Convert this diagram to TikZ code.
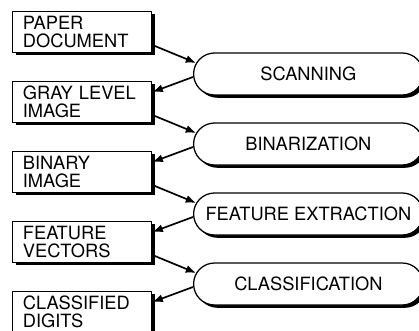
\documentclass[tikz,border=0pt]{standalone}
\usepackage{fontspec}
\setmainfont{TeX Gyre Heros}
\usepackage{tikz}
\usetikzlibrary{arrows.meta, positioning, shapes.misc, shadows}

\begin{document}
\begin{tikzpicture}[
    >=Latex,
    font=\fontsize{13}{12.8}\selectfont,
    heavyshadow/.style={drop shadow={shadow xshift=0.07cm, shadow yshift=-0.07cm, fill=black, opacity=1}},
    databox/.style={draw, line width=0.8pt, fill=white, heavyshadow, align=left, inner xsep=0.25cm, minimum width=3.475cm, minimum height=1cm, text width=2.975cm},
    stepround/.style={draw, rounded rectangle, line width=0.9pt, fill=white, heavyshadow, align=center, minimum width=5.975cm, minimum height=1.05cm},
    flowarrow/.style={-{Latex[length=2.6mm, width=2mm]}, line width=1.2pt}
]
\useasboundingbox (0,0) rectangle (10.475,8.25);

\node[databox] (paper) at (2.06,7.45) {PAPER\\DOCUMENT};
\node[databox] (gray) at (2.06,5.7) {GRAY LEVEL\\IMAGE};
\node[databox] (binary) at (2.06,3.95) {BINARY\\IMAGE};
\node[databox] (feat) at (2.06,2.2) {FEATURE\\VECTORS};
\node[databox] (digits) at (2.06,0.45) {CLASSIFIED\\DIGITS};

\node[stepround] (scan) at (7.71,6.4) {SCANNING};
\node[stepround] (binar) at (7.71,4.65) {BINARIZATION};
\node[stepround] (extract) at (7.71,2.9) {FEATURE EXTRACTION};
\node[stepround] (classify) at (7.71,1.15) {CLASSIFICATION};

\draw[flowarrow] ([yshift=-0.325cm]paper.east) -- ([shift={(0.08,0.275)}]scan.west);
\draw[flowarrow] ([yshift=-0.075cm]scan.west) -- ([yshift=0.25cm]gray.east);
\draw[flowarrow] ([yshift=-0.325cm]gray.east) -- ([shift={(0.08,0.275)}]binar.west);
\draw[flowarrow] ([yshift=-0.075cm]binar.west) -- ([yshift=0.25cm]binary.east);
\draw[flowarrow] ([yshift=-0.325cm]binary.east) -- ([shift={(0.08,0.275)}]extract.west);
\draw[flowarrow] ([yshift=-0.075cm]extract.west) -- ([yshift=0.25cm]feat.east);
\draw[flowarrow] ([yshift=-0.325cm]feat.east) -- ([shift={(0.08,0.275)}]classify.west);
\draw[flowarrow] ([yshift=-0.075cm]classify.west) -- ([yshift=0.25cm]digits.east);

\end{tikzpicture}
\end{document}
